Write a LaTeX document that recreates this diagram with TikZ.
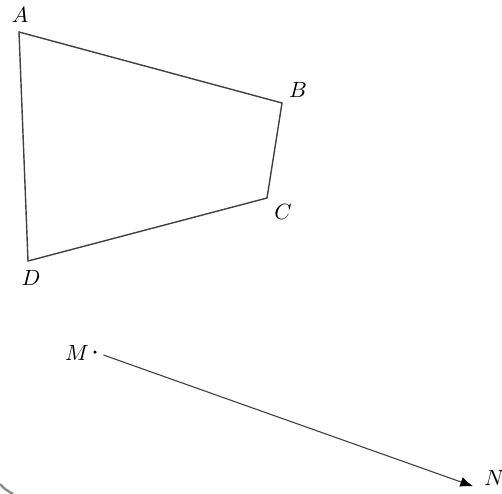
\documentclass[tikz,border=0pt]{standalone}
\usetikzlibrary{arrows.meta}
\begin{document}
\begin{tikzpicture}[x=1pt,y=-1pt,
  edge/.style={draw=black!75,line width=1.4pt,line join=miter},
  lab/.style={inner sep=0pt,scale=2.2},
  vtx/.style={inner sep=0pt,minimum size=0pt}]
\useasboundingbox (0,0) rectangle (502,493);
\coordinate (A) at (19,32);
\coordinate (B) at (282,103);
\coordinate (C) at (267,198);
\coordinate (D) at (28,261);
\draw[edge] (A) -- (B) -- (C) -- (D) -- cycle;
\node[lab] (lA) at (20,15) {$A$};
\node[lab] (lB) at (298,90) {$B$};
\node[lab] (lC) at (283,212) {$C$};
\node[lab] (lD) at (31,278) {$D$};
\node[circle,fill=black,inner sep=0pt,minimum size=3.5pt] (M) at (95,352) {};
\node[lab] (lM) at (77,353) {$M$};
\coordinate (N) at (478,488);
\node[lab,anchor=west] (lN) at (484,478) {$N$};
\draw[edge,line width=1.1pt,shorten <=7pt,shorten >=5pt,-{Latex[length=13pt,width=10pt,color=black]}] (M) -- (N);
\draw[black!45,line width=2.5pt] (0,484) .. controls (4,489) and (8,491) .. (13,494);
\end{tikzpicture}
\end{document}
